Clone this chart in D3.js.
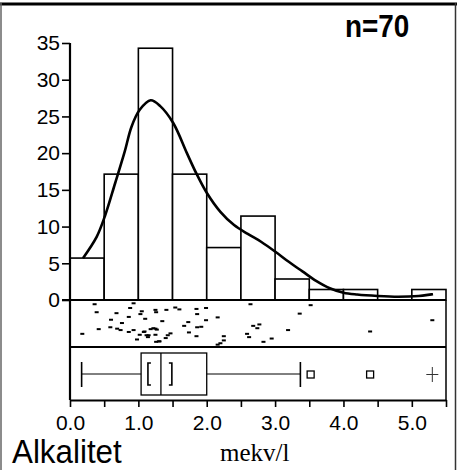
<!DOCTYPE html>
<html>
<head>
<meta charset="utf-8">
<script src="https://cdn.jsdelivr.net/npm/d3@7"></script>
<style>
  html, body { margin: 0; padding: 0; background: #fff; }
  svg { display: block; }
</style>
</head>
<body>
<script>
// ---------------- data ----------------
const binStarts = [0.0, 0.5, 1.0, 1.5, 2.0, 2.5, 3.0, 3.5, 4.0, 4.5, 5.0];
const binWidth = 0.5;
const binPercent = [5.71, 17.14, 34.29, 17.14, 7.14, 11.43, 2.86, 1.43, 1.43, 0, 1.43];

const densityX = [0.19, 0.39, 0.51, 0.66, 0.80, 0.90, 1.02, 1.18, 1.32, 1.51, 1.71, 1.85, 2.00, 2.20, 2.40, 2.60, 2.80, 3.00, 3.20, 3.40, 3.60, 3.80, 4.00, 4.20, 4.50, 4.80, 5.10, 5.31];
const densityY = [5.7, 8.6, 11.4, 15.9, 20.2, 23.6, 25.9, 27.2, 26.4, 24.1, 20.0, 17.2, 14.6, 12.0, 10.2, 9.0, 7.9, 6.6, 5.2, 3.9, 2.6, 1.6, 1.0, 0.75, 0.55, 0.45, 0.55, 0.8];

const stripValues = [0.36, 0.93, 0.39, 0.68, 0.88, 1.05, 1.03, 1.25, 1.26, 1.41, 1.54, 1.60, 1.85, 1.99, 1.86, 2.16,
  0.60, 0.86, 1.10, 0.76, 0.59, 0.42, 0.18, 0.69, 0.74, 0.86, 0.93, 1.09, 1.02, 1.12, 1.15, 1.25, 1.27, 1.25,
  0.98, 1.14, 1.26, 1.31, 1.40, 1.43, 1.47, 1.67, 1.73, 1.86, 1.92, 1.99, 1.74, 1.85, 2.25, 2.25, 2.16,
  2.59, 2.62, 2.64, 3.52, 3.36, 2.77, 2.74, 3.19, 2.95, 2.83, 4.39, 5.30,
  1.22, 1.30, 1.18, 1.35, 1.08, 2.20, 2.68];
const stripJitter = [0.09, 0.07, 0.26, 0.28, 0.17, 0.24, 0.30, 0.21, 0.26, 0.21, 0.16, 0.20, 0.19, 0.17, 0.30, 0.37,
  0.42, 0.36, 0.40, 0.49, 0.58, 0.62, 0.72, 0.61, 0.64, 0.68, 0.64, 0.67, 0.74, 0.75, 0.75, 0.61, 0.63, 0.74,
  0.84, 0.79, 0.89, 0.88, 0.81, 0.75, 0.71, 0.55, 0.47, 0.58, 0.57, 0.43, 0.69, 0.77, 0.77, 0.86, 0.95,
  0.72, 0.79, 0.09, 0.11, 0.29, 0.52, 0.60, 0.64, 0.82, 0.89, 0.67, 0.43,
  0.60, 0.88, 0.62, 0.45, 0.68, 0.92, 0.55];

// box plot statistics (mekv/l)
const boxStats = { whiskerLow: 0.17, q1: 1.04, median: 1.33, q3: 2.00, whiskerHigh: 3.37 };
const medianCI = [1.14, 1.49];
const outliers = [3.52, 4.39];
const farOutliers = [5.30];

const yTicks = [0, 5, 10, 15, 20, 25, 30, 35];
const xTicks = [0, 0.5, 1, 1.5, 2, 2.5, 3, 3.5, 4, 4.5, 5, 5.5];
const xTickLabels = ["0.0", "", "1.0", "", "2.0", "", "3.0", "", "4.0", "", "5.0", ""];

const title = "Alkalitet";
const unitLabel = "mekv/l";
const nLabel = "n=70";

// ---------------- layout ----------------
const W = 457, H = 470;
const left = 70, right = 446;
const histTop = 43, histBottom = 300;
const stripBottom = 347;
const plotBottom = 400;
const SANS = "'Liberation Sans', Arial, Helvetica, sans-serif";
const SERIF = "'Liberation Serif', 'Times New Roman', Times, serif";

const svg = d3.select("body").append("svg").attr("width", W).attr("height", H);

const x = d3.scaleLinear().domain([0, 5.5]).range([left, right]);
const y = d3.scaleLinear().domain([0, 35]).range([histBottom, histTop]);

// outer frame
svg.append("line").attr("x1", 0).attr("x2", W).attr("y1", 4).attr("y2", 4)
  .attr("stroke", "#000").attr("stroke-width", 3);
svg.append("line").attr("x1", 1).attr("x2", 1).attr("y1", 3).attr("y2", H)
  .attr("stroke", "#666").attr("stroke-width", 1.5);
svg.append("line").attr("x1", 455.5).attr("x2", 455.5).attr("y1", 3).attr("y2", H)
  .attr("stroke", "#333").attr("stroke-width", 1.5);

// histogram bars
svg.append("g").selectAll("rect").data(binStarts.map((s, i) => ({ s, v: binPercent[i] })).filter(d => d.v > 0))
  .join("rect")
  .attr("x", d => x(d.s))
  .attr("y", d => y(d.v))
  .attr("width", d => x(d.s + binWidth) - x(d.s))
  .attr("height", d => y(0) - y(d.v))
  .attr("fill", "#fff")
  .attr("stroke", "#000")
  .attr("stroke-width", 1.6);

// density curve
const line = d3.line().x(d => x(d[0])).y(d => y(d[1])).curve(d3.curveCatmullRom.alpha(0.5));
svg.append("path")
  .attr("d", line(densityX.map((v, i) => [v, densityY[i]])))
  .attr("fill", "none").attr("stroke", "#000").attr("stroke-width", 2.6);

// y axis
const yAxis = d3.axisLeft(y).tickValues(yTicks).tickSize(8).tickSizeOuter(0).tickPadding(2);
const yg = svg.append("g").attr("transform", `translate(${left},0)`).call(yAxis);
yg.select(".domain").remove();
yg.selectAll(".tick line").attr("stroke", "#000").attr("stroke-width", 1.6);
yg.selectAll(".tick text").attr("fill", "#000").style("font-size", "21px").style("font-family", SANS);

// strip + box panels
svg.append("line").attr("x1", left - 8).attr("x2", right).attr("y1", histBottom).attr("y2", histBottom)
  .attr("stroke", "#000").attr("stroke-width", 2);
svg.append("line").attr("x1", left).attr("x2", right).attr("y1", stripBottom).attr("y2", stripBottom)
  .attr("stroke", "#000").attr("stroke-width", 2);
svg.append("line").attr("x1", right).attr("x2", right).attr("y1", histBottom).attr("y2", plotBottom)
  .attr("stroke", "#000").attr("stroke-width", 1.5);
svg.append("line").attr("x1", left).attr("x2", left).attr("y1", histTop).attr("y2", plotBottom)
  .attr("stroke", "#000").attr("stroke-width", 2.2);

// jittered strip
const jy = d3.scaleLinear().domain([0, 1]).range([histBottom, stripBottom]);
svg.append("g").selectAll("rect").data(stripValues.map((v, i) => [v, stripJitter[i]]))
  .join("rect")
  .attr("x", d => x(d[0]) - 2)
  .attr("y", d => jy(d[1]) - 1)
  .attr("width", 4).attr("height", 2)
  .attr("fill", "#000");

// box plot
const boxTop = 353, boxBottom = 395, boxMid = (boxTop + boxBottom) / 2;
const bg = svg.append("g");
bg.append("line").attr("x1", x(boxStats.whiskerLow)).attr("x2", x(boxStats.q1))
  .attr("y1", boxMid).attr("y2", boxMid).attr("stroke", "#000").attr("stroke-width", 1);
bg.append("line").attr("x1", x(boxStats.q3)).attr("x2", x(boxStats.whiskerHigh))
  .attr("y1", boxMid).attr("y2", boxMid).attr("stroke", "#000").attr("stroke-width", 1);
[boxStats.whiskerLow, boxStats.whiskerHigh].forEach(v => {
  bg.append("line").attr("x1", x(v)).attr("x2", x(v)).attr("y1", boxMid - 12).attr("y2", boxMid + 13)
    .attr("stroke", "#000").attr("stroke-width", 1.6);
});
bg.append("rect").attr("x", x(boxStats.q1)).attr("y", boxTop)
  .attr("width", x(boxStats.q3) - x(boxStats.q1)).attr("height", boxBottom - boxTop)
  .attr("fill", "none").attr("stroke", "#000").attr("stroke-width", 1.3);
bg.append("line").attr("x1", x(boxStats.median)).attr("x2", x(boxStats.median))
  .attr("y1", boxTop).attr("y2", boxBottom).attr("stroke", "#000").attr("stroke-width", 1.3);
// CI brackets
const bTop = boxMid - 11, bBot = boxMid + 11;
bg.append("path")
  .attr("d", `M${x(medianCI[0]) + 3},${bTop} H${x(medianCI[0])} V${bBot} H${x(medianCI[0]) + 3}`)
  .attr("fill", "none").attr("stroke", "#000").attr("stroke-width", 1.6);
bg.append("path")
  .attr("d", `M${x(medianCI[1]) - 3},${bTop} H${x(medianCI[1])} V${bBot} H${x(medianCI[1]) - 3}`)
  .attr("fill", "none").attr("stroke", "#000").attr("stroke-width", 1.6);
// outliers
bg.selectAll("rect.out").data(outliers).join("rect").attr("class", "out")
  .attr("x", d => x(d) - 3.5).attr("y", boxMid - 3).attr("width", 7).attr("height", 7)
  .attr("fill", "none").attr("stroke", "#000").attr("stroke-width", 1.3);
farOutliers.forEach(v => {
  bg.append("path")
    .attr("d", `M${x(v) - 6},${boxMid + 0.5} H${x(v) + 6} M${x(v)},${boxMid - 7} V${boxMid + 8}`)
    .attr("stroke", "#333").attr("stroke-width", 1);
});

// x axis
const xAxis = d3.axisBottom(x).tickValues(xTicks)
  .tickFormat((d, i) => xTickLabels[i]).tickSize(7).tickSizeOuter(0).tickPadding(8);
const xg = svg.append("g").attr("transform", `translate(0,${plotBottom})`).call(xAxis);
xg.select(".domain").attr("stroke", "#000").attr("stroke-width", 2);
xg.selectAll(".tick line").attr("stroke", "#000").attr("stroke-width", 1.6);
xg.selectAll(".tick text").attr("fill", "#000").style("font-size", "21px").style("font-family", SANS);

// texts
svg.append("text").attr("transform", "translate(12,463) scale(0.95,1)")
  .style("font-family", SANS).style("font-size", "33px").text(title);
svg.append("text").attr("x", 220).attr("y", 461)
  .style("font-family", SERIF).style("font-size", "25px").text(unitLabel);
svg.append("text").attr("transform", "translate(345,37) scale(0.9,1)")
  .style("font-family", SANS).style("font-size", "31px").style("font-weight", "bold").text(nLabel);
</script>
</body>
</html>
